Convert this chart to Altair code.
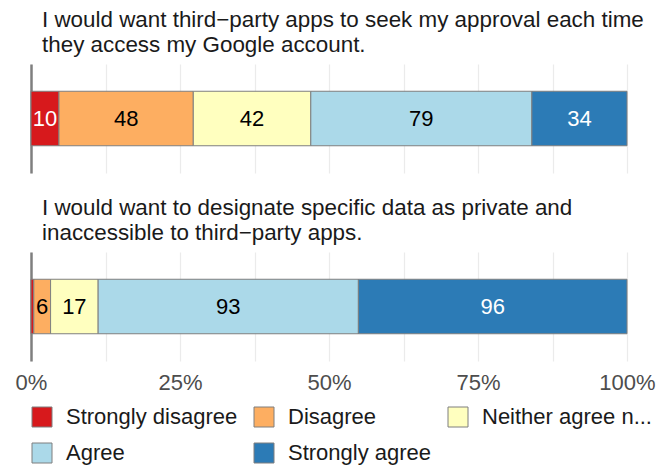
import altair as alt
import pandas as pd

responses = ["Strongly disagree", "Disagree", "Neither agree nor disagree", "Agree", "Strongly agree"]
colors = ["#d7191c", "#fdae61", "#ffffbf", "#abd9e9", "#2c7bb6"]
title_lines = [
    ["I would want third\u2212party apps to seek my approval each time",
     "they access my Google account."],
    ["I would want to designate specific data as private and",
     "inaccessible to third\u2212party apps."],
]
counts = [
    [10, 48, 42, 79, 34],
    [1, 6, 17, 93, 96],
]
grid_ticks = [0, 0.125, 0.25, 0.375, 0.5, 0.625, 0.75, 0.875, 1.0]

rows = []
for qi, cs in enumerate(counts):
    for oi, (r, c) in enumerate(zip(responses, cs)):
        rows.append({"qid": qi, "q": " ".join(title_lines[qi]), "response": r, "order": oi, "count": c})
df = pd.DataFrame(rows)

FONT = "Liberation Sans"
FS = 22
TFS = 22.4

legend = alt.Legend(
    title=None, orient="bottom", columns=3, direction="horizontal", offset=13,
    symbolType="square", symbolSize=400, symbolStrokeColor="#7f7f7f", symbolStrokeWidth=1,
    labelFontSize=FS, labelFont=FONT, labelColor="#1a1a1a", labelOffset=13,
    columnPadding=14, rowPadding=12, labelLimit=400,
    labelExpr="datum.label == 'Neither agree nor disagree' ? 'Neither agree n...' : datum.label",
)


def panel(i, bottom):
    base = alt.Chart(df).transform_filter(alt.datum.qid == i).transform_stack(
        stack="count", groupby=["qid"], as_=["x0", "x1"], offset="normalize",
        sort=[alt.SortField("order", "ascending")],
    )
    xaxis = alt.Axis(
        title=None, values=grid_ticks, format="%", ticks=False, domain=False,
        grid=True, gridColor="#ebebeb", gridWidth=1.2,
        labels=bottom, labelFontSize=FS, labelFont=FONT, labelColor="#4d4d4d", labelPadding=11,
        labelFlush=False,
        labelExpr="(round(datum.value*1000) % 250 == 0) ? format(datum.value, '.0%') : ''",
    )
    yenc = alt.Y("q:N", scale=alt.Scale(paddingInner=0, paddingOuter=0.5),
                 axis=alt.Axis(title=None, labels=False, ticks=False, domain=True,
                               domainColor="#7f7f7f", domainWidth=2.5, grid=False))
    bars = base.mark_bar(stroke="#7f7f7f", strokeWidth=1).encode(
        x=alt.X("x0:Q", scale=alt.Scale(domain=[0, 1], nice=False), axis=xaxis),
        x2="x1:Q",
        y=yenc,
        color=alt.Color("response:N", scale=alt.Scale(domain=responses, range=colors), legend=legend),
    )
    text = base.transform_filter(alt.datum.count >= 2).transform_calculate(
        mid="(datum.x0 + datum.x1) / 2"
    ).mark_text(fontSize=FS, font=FONT).encode(
        x=alt.X("mid:Q"),
        y=alt.Y("q:N"),
        text="count:Q",
        color=alt.condition(
            "datum.response == 'Strongly disagree' || datum.response == 'Strongly agree'",
            alt.value("white"), alt.value("black")),
    )
    return alt.layer(bars, text).properties(
        width=596, height=109,
        title=alt.TitleParams(text=title_lines[i], anchor="start", frame="group", fontSize=TFS,
                              font=FONT, fontWeight="normal", color="#1a1a1a", dx=11,
                              lineHeight=25, offset=8),
    )


chart = alt.vconcat(panel(0, False), panel(1, True), spacing=23).properties(
    padding={"left": 7, "top": 0, "right": 0, "bottom": 0}
).configure_view(stroke=None)

chart.save("out.html", embed_options={"renderer": "svg", "actions": False})
